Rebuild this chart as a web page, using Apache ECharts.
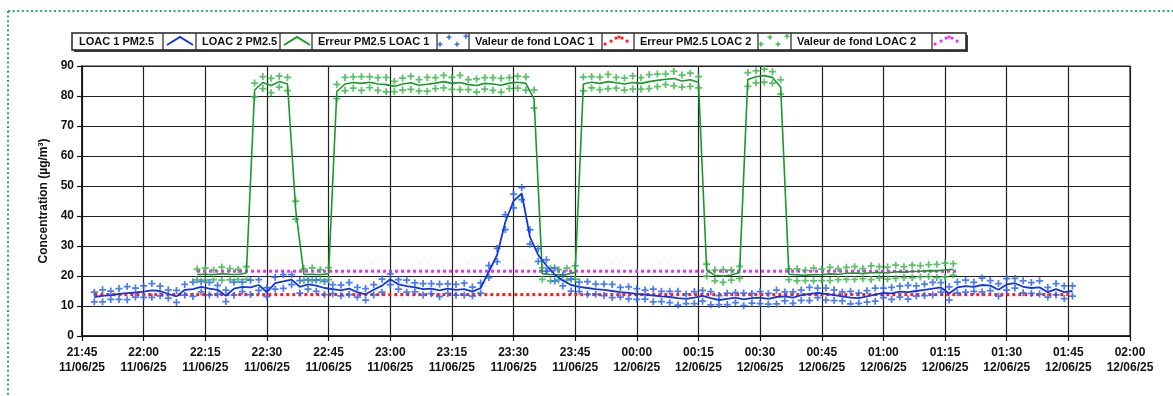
<!DOCTYPE html>
<html><head><meta charset="utf-8">
<script src="https://cdn.jsdelivr.net/npm/echarts@6/dist/echarts.min.js"></script>
<style>html,body{margin:0;padding:0;background:#fff}#c{width:1173px;height:396px}</style>
</head><body><div id="c"></div>
<script>
// ---- data ----
const tickLabels = ['21:45\n11/06/25','22:00\n11/06/25','22:15\n11/06/25','22:30\n11/06/25','22:45\n11/06/25','23:00\n11/06/25','23:15\n11/06/25','23:30\n11/06/25','23:45\n11/06/25','00:00\n12/06/25','00:15\n12/06/25','00:30\n12/06/25','00:45\n12/06/25','01:00\n12/06/25','01:15\n12/06/25','01:30\n12/06/25','01:45\n12/06/25','02:00\n12/06/25'];
const yTicks = [0,10,20,30,40,50,60,70,80,90];
// minutes after 21:45, sampling step in minutes
const loac1Start = 3, loac1Step = 2;
const loac1 = [13.0,13.4,13.6,14.0,14.3,14.5,14.8,15.2,15.0,14.0,13.2,15.4,15.6,16.4,15.8,15.4,13.4,15.8,16.4,16.2,17.0,14.6,17.6,18.2,18.8,16.4,17.2,16.8,16.0,15.6,15.2,15.8,14.6,13.9,15.4,16.8,18.9,17.2,16.6,16.2,15.6,15.8,15.2,15.8,15.4,15.6,14.8,16.0,21.5,27.0,38.0,45.0,47.5,33.0,27.0,23.5,20.5,18.5,17.0,16.4,16.0,15.6,15.4,15.0,14.6,14.4,14.0,13.8,13.5,13.2,13.0,12.6,12.4,12.8,13.4,12.6,12.0,12.4,12.8,12.2,12.6,12.8,12.4,13.0,13.2,12.8,13.6,14.0,14.4,14.0,13.6,13.2,12.8,12.6,13.2,13.8,14.4,14.2,14.8,14.6,15.0,15.4,15.8,16.2,14.2,16.2,16.6,16.4,17.0,16.8,15.4,17.2,17.6,16.4,16.0,16.2,14.6,15.6,14.6,15.0];
const loac1Err = [1.6,2.0,1.4,1.8,2.2,1.5,1.9,2.3,1.6,1.4,2.0,1.8,2.4,1.7,2.1,1.5,1.9,2.2,1.6,2.4,1.8,1.5,2.0,2.3,1.7,2.1,1.6,1.9,2.2,1.5,1.8,2.0,1.6,1.9,1.7,2.2,1.8,1.6,2.0,1.5,1.9,1.7,2.1,1.6,1.8,2.0,1.5,1.7,2.0,2.2,2.5,2.3,2.0,2.4,2.1,1.9,2.2,1.8,2.0,1.6,2.1,1.7,1.9,2.2,1.6,2.0,1.8,1.5,2.1,1.7,1.9,2.3,1.6,2.0,1.8,2.2,1.5,1.9,1.7,2.1,1.6,2.0,1.8,2.3,1.5,1.9,1.7,2.2,1.6,2.0,1.8,1.5,2.1,1.7,1.9,2.2,1.6,2.0,1.8,2.3,1.7,1.9,2.1,1.6,2.2,1.8,2.0,1.5,2.3,1.7,2.1,1.9,1.6,2.0,1.8,2.2,1.6,1.9,2.1,1.7];
const loac2Start = 28, loac2Step = 2;
const loac2 = [20.5,20.6,20.4,20.8,20.6,20.5,21.0,82.0,84.5,83.5,84.8,84.0,42.0,20.5,20.6,20.4,20.8,81.5,84.0,84.5,84.2,84.6,84.0,83.8,83.2,84.0,84.4,83.6,83.9,84.3,84.8,84.2,84.5,83.8,83.5,84.2,84.0,83.6,84.3,84.6,84.2,79.0,20.8,20.5,20.4,20.6,21.2,84.0,84.6,84.2,84.8,84.4,84.0,84.5,84.2,84.8,85.2,85.6,85.8,85.0,85.4,84.6,22.0,20.2,20.0,20.3,21.2,85.5,86.4,86.8,86.2,83.0,20.6,20.4,20.2,20.5,20.4,20.7,20.6,20.9,21.0,20.8,21.1,21.2,21.0,21.4,21.3,21.5,21.6,21.8,21.7,22.0,22.2];
const loac2Err = [1.8,2.0,1.6,2.2,1.9,1.7,2.1,2.3,2.0,2.4,1.8,2.2,3.0,1.9,2.1,1.7,2.0,2.4,2.2,1.9,2.3,1.8,2.1,2.4,1.7,2.0,2.2,1.9,2.3,1.8,2.1,2.0,2.4,1.7,2.2,1.9,2.1,2.3,1.8,2.0,2.2,3.0,1.9,2.1,1.7,2.0,2.2,2.3,1.9,2.1,2.4,1.8,2.0,2.2,1.9,2.3,2.1,1.8,2.4,2.0,2.2,1.9,2.0,1.8,2.1,1.7,2.0,2.3,2.0,2.2,1.9,2.4,1.8,2.0,1.7,2.1,1.9,2.2,1.8,2.0,2.1,1.7,2.3,1.9,2.0,2.2,1.8,2.1,1.9,2.0,2.2,2.3,1.9];
const bg1 = {value: 13.8, from: 3, to: 241};
const bg2 = {value: 21.6, from: 28, to: 213};
const legendNames = ['LOAC 1 PM2.5','LOAC 2 PM2.5','Erreur PM2.5 LOAC 1','Valeur de fond LOAC 1','Erreur PM2.5 LOAC 2','Valeur de fond LOAC 2'];

// ---- colours ----
const C_BLUE = '#1238e0', C_BLUE_M = '#2c66f2', C_GREEN = '#179a2a', C_GREEN_M = '#3db84c', C_RED = '#ff1a1a', C_MAG = '#e033ea';

const pairs = (start, step, vals) => vals.map((v, i) => [start + i * step, v]);
const errPts = (start, step, vals, errs) => {
  const out = [];
  vals.forEach((v, i) => { out.push([start + i * step, v + errs[i]]); out.push([start + i * step, v - errs[i]]); });
  return out;
};
const PLUS = 'path://M3,0H5V3H8V5H5V8H3V5H0V3H3Z';

// ---- legend graphics ----
const cells = [[73,163,196],[196,280,312],[312,437,469],[469,602,634],[634,758,791],[791,932,966]];
const lg = [];
lg.push({type:'rect', shape:{x:74,y:35,width:894,height:17}, style:{fill:'#444'}});
lg.push({type:'rect', shape:{x:72,y:33,width:894,height:17}, style:{fill:'#fff', stroke:'#222', lineWidth:1.5}});
cells.forEach((c, i) => {
  lg.push({type:'line', shape:{x1:c[1],y1:33,x2:c[1],y2:50}, style:{stroke:'#222',lineWidth:1.2}});
  if (i > 0) lg.push({type:'line', shape:{x1:c[0],y1:33,x2:c[0],y2:50}, style:{stroke:'#222',lineWidth:1.2}});
  lg.push({type:'text', x:c[0]+6, y:42, style:{text:legendNames[i], fill:'#111', font:'bold 11px "Liberation Sans", Arial, sans-serif', verticalAlign:'middle', align:'left'}});
  const x0 = c[1];
  if (i === 0 || i === 1) {
    lg.push({type:'polyline', shape:{points:[[x0+4,45],[x0+17,37],[x0+30,45]]}, style:{stroke: i===0?C_BLUE:C_GREEN, lineWidth:2, fill:null}});
  } else {
    const col = i===2?C_BLUE_M:(i===3?C_RED:(i===4?C_GREEN_M:C_MAG));
    const pts = (i===2||i===4) ? [[3,44],[12,37],[20,44],[29,36]] : [[3,44],[9,41],[14,38],[17,37],[20,38],[25,41]];
    pts.forEach(p => {
      if (i===2||i===4) {
        lg.push({type:'rect', shape:{x:x0+p[0]-2.5,y:p[1]-0.5,width:5,height:1.4}, style:{fill:col}});
        lg.push({type:'rect', shape:{x:x0+p[0]-0.7,y:p[1]-2.3,width:1.4,height:5}, style:{fill:col}});
      } else {
        lg.push({type:'rect', shape:{x:x0+p[0]-1.3,y:p[1]-1.3,width:2.8,height:2.8}, style:{fill:col}});
      }
    });
  }
});
// page frame (dotted)
const frame = [
  {type:'line', shape:{x1:8,y1:11,x2:1173,y2:11}, style:{stroke:'#1fb070', lineWidth:2, lineDash:[2,2.6]}},
  {type:'line', shape:{x1:8,y1:11,x2:8,y2:396}, style:{stroke:'#1fb070', lineWidth:2, lineDash:[2,2.6]}}
];

const chart = echarts.init(document.getElementById('c'));
const fontAx = '"Liberation Sans", Arial, sans-serif';
chart.setOption({
  animation: false,
  backgroundColor: '#fff',
  grid: {left: 82, right: 43, top: 66, bottom: 60, show: true, borderColor: '#222', borderWidth: 1.2},
  xAxis: {
    type: 'value', min: 0, max: 255, interval: 15,
    axisLine: {show: true, lineStyle: {color: '#111', width: 1.5}},
    axisTick: {show: true, length: 5, lineStyle: {color: '#111', width: 1.2}},
    splitLine: {show: true, lineStyle: {color: '#222', width: 1.2}},
    axisLabel: {color: '#111', fontWeight: 'bold', fontSize: 12, fontFamily: fontAx, lineHeight: 15, margin: 9,
      formatter: v => tickLabels[Math.round(v / 15)] || ''}
  },
  yAxis: {
    type: 'value', min: yTicks[0], max: yTicks[yTicks.length-1], interval: 10,
    name: 'Concentration (µg/m³)', nameLocation: 'middle', nameGap: 30,
    nameTextStyle: {color: '#111', fontWeight: 'bold', fontSize: 12, fontFamily: fontAx},
    axisLine: {show: true, lineStyle: {color: '#111', width: 1.5}},
    axisTick: {show: true, length: 5, lineStyle: {color: '#111', width: 1.2}},
    splitLine: {show: true, lineStyle: {color: '#222', width: 1.2}},
    axisLabel: {color: '#111', fontWeight: 'bold', fontSize: 12, fontFamily: fontAx, margin: 8}
  },
  series: [
    {name: legendNames[3], type: 'line', data: [[bg1.from, bg1.value],[bg1.to, bg1.value]], showSymbol: false,
      lineStyle: {color: C_RED, width: 3, type: [3, 3]}, z: 2},
    {name: legendNames[5], type: 'line', data: [[bg2.from, bg2.value],[bg2.to, bg2.value]], showSymbol: false,
      lineStyle: {color: C_MAG, width: 3, type: [3, 3]}, z: 2},
    {name: legendNames[4], type: 'scatter', data: errPts(loac2Start, loac2Step, loac2, loac2Err), symbol: PLUS, symbolSize: 7,
      itemStyle: {color: C_GREEN_M, opacity: 0.85}, z: 3},
    {name: legendNames[2], type: 'scatter', data: errPts(loac1Start, loac1Step, loac1, loac1Err), symbol: PLUS, symbolSize: 7,
      itemStyle: {color: C_BLUE_M, opacity: 0.85}, z: 3},
    {name: legendNames[1], type: 'line', data: pairs(loac2Start, loac2Step, loac2), showSymbol: false,
      lineStyle: {color: C_GREEN, width: 1.6}, z: 4},
    {name: legendNames[0], type: 'line', data: pairs(loac1Start, loac1Step, loac1), showSymbol: false,
      lineStyle: {color: C_BLUE, width: 1.8}, z: 5}
  ],
  graphic: frame.concat(lg)
});
</script></body></html>
